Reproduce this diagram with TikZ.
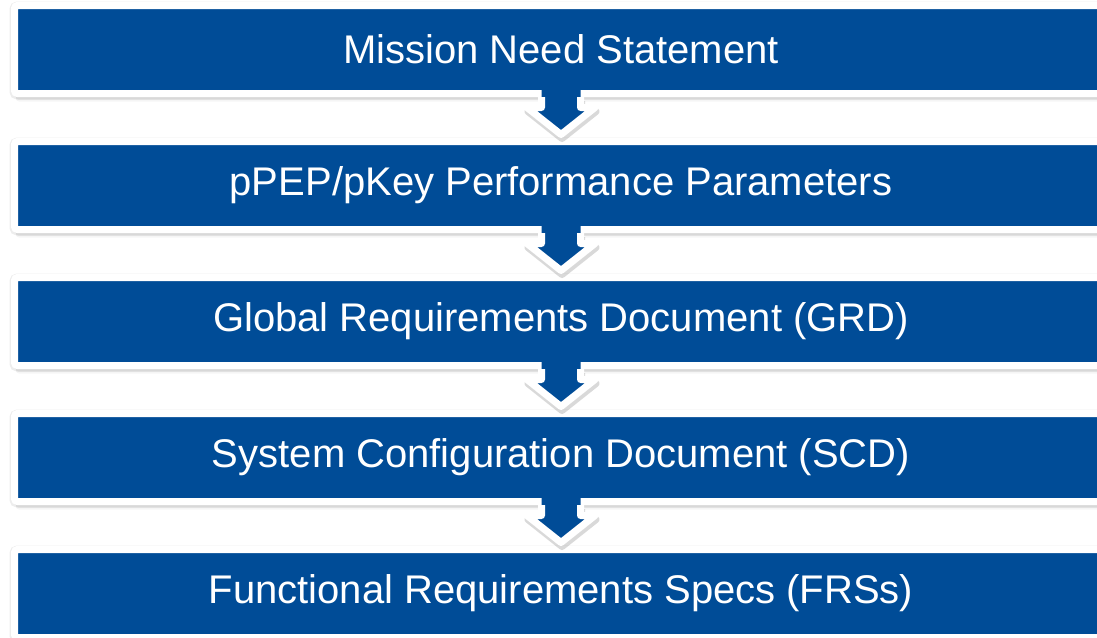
\documentclass[tikz,border=0pt]{standalone}
\usepackage{fontspec}
\setmainfont{Liberation Sans}
\usepackage{tikz}
\usetikzlibrary{calc, positioning, shadows}
\definecolor{stageblue}{RGB}{0,76,151}

\begin{document}
\begin{tikzpicture}[x=1pt, y=-1pt, node distance=41pt]
    % Define styles locally
    \tikzstyle{stage} = [rectangle, draw=white, line width=7pt, fill=stageblue, rounded corners=3pt, minimum width=1093pt, minimum height=88pt, inner sep=0pt, text=white, font=\fontsize{40}{48}\selectfont, drop shadow={shadow xshift=0pt, shadow yshift=-1pt, opacity=0.07, draw=black, line width=10pt}, drop shadow={shadow xshift=1pt, shadow yshift=-6pt, opacity=0.12}, drop shadow={shadow xshift=1.5pt, shadow yshift=-8pt, opacity=0.08}]
    \tikzstyle{flowfill} = [fill=stageblue]
    \tikzstyle{flowline} = [draw=white, line width=7pt, line join=round]
    \tikzstyle{flowshade} = [draw=black, opacity=0.15, line width=7pt, line join=round, transform canvas={shift={(1pt,-4pt)}}]

    \useasboundingbox (0,0) rectangle (1097,637);
    \clip (0,0) rectangle (1097,637);

    % Stages
    \node[stage] (mns) at (561,49.5) {Mission Need Statement};
    \node[stage, below=of mns] (ppep) {pPEP/pKey Performance Parameters};
    \node[stage, below=of ppep] (grd) {Global Requirements Document (GRD)};
    \node[stage, below=of grd] (scd) {System Configuration Document (SCD)};
    \node[stage, below=of scd] (frs) {Functional Requirements Specs (FRSs)};

    % Block arrows between stages
    \foreach \a/\b in {mns/ppep, ppep/grd, grd/scd, scd/frs} {
        \draw[flowshade] ($(\a.south)+(-19.5,0)$) -- ++(0,10.5) -- ++(-14.5,0) -- ($(\b.north)+(0,-3.5)$) -- ($(\a.south)+(34,10.5)$) -- ++(-14.5,0) -- ++(0,-10.5);
        \fill[flowfill] ($(\a.south)+(-19.5,-8)$) -- ++(0,18.5) -- ++(-14.5,0) -- ($(\b.north)+(0,-3.5)$) -- ($(\a.south)+(34,10.5)$) -- ++(-14.5,0) -- ++(0,-18.5) -- cycle;
        \draw[flowline] ($(\a.south)+(-19.5,0)$) -- ++(0,10.5) -- ++(-14.5,0) -- ($(\b.north)+(0,-3.5)$) -- ($(\a.south)+(34,10.5)$) -- ++(-14.5,0) -- ++(0,-10.5);
    }
\end{tikzpicture}
\end{document}
